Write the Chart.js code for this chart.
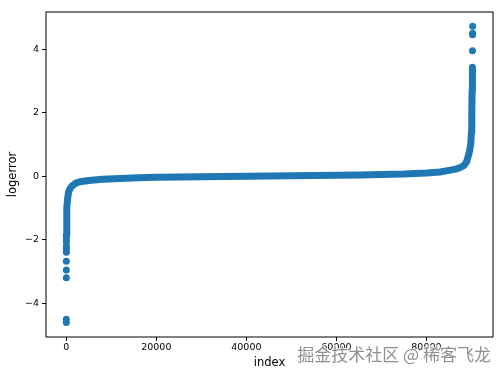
<!DOCTYPE html>
<html>
<head>
<meta charset="utf-8">
<script src="https://cdn.jsdelivr.net/npm/chart.js@4/dist/chart.umd.min.js"></script>
<style>
  html, body { margin: 0; padding: 0; background: #fff; }
</style>
</head>
<body>
<canvas id="chart" width="503" height="378"></canvas>
<script>
// sorted logerror vs index
const curveIndex = [0, 60, 150, 300, 500, 800, 1200, 2000, 3000, 5000, 8000, 12000, 16000, 20000, 25000, 30000, 35000, 40000, 45000, 50000, 55000, 60000, 65000, 70000, 75000, 80000, 83000, 85000, 86500, 87500, 88300, 88900, 89240, 89600, 89860, 90000, 90080, 90150, 90220];
const curveError = [-1.86, -1.5, -1.0, -0.7, -0.5, -0.4, -0.32, -0.23, -0.18, -0.14, -0.1, -0.075, -0.055, -0.04, -0.03, -0.02, -0.012, -0.005, 0.002, 0.008, 0.015, 0.024, 0.034, 0.048, 0.066, 0.1, 0.13, 0.18, 0.22, 0.27, 0.33, 0.44, 0.6, 0.8, 1.03, 1.4, 2.0, 2.7, 3.43];

// isolated markers at both ends
const outlierIndex = [2, 3, 6, 8, 10, 14, 16, 18, 22, 26, 90240, 90255, 90262, 90270];
const outlierError = [-4.61, -4.51, -3.2, -2.96, -2.68, -2.4, -2.3, -2.2, -2.07, -1.96, 3.95, 4.45, 4.5, 4.72];

const xTicks = [0, 20000, 40000, 60000, 80000];
const yTicks = [-4, -2, 0, 2, 4];

const blue = '#1f77b4';

const toPoints = (xs, ys) => xs.map((x, i) => ({ x: x, y: ys[i] }));

// box around the plot plus the watermark
const framePlugin = {
    id: 'frame',
    afterDraw(chart) {
        const { ctx, chartArea } = chart;
        ctx.save();
        ctx.strokeStyle = '#000';
        ctx.lineWidth = 1;
        ctx.strokeRect(chartArea.left, chartArea.top, chartArea.right - chartArea.left, chartArea.bottom - chartArea.top);
        ctx.font = '17px "Noto Sans CJK SC"';
        ctx.textAlign = 'right';
        ctx.textBaseline = 'middle';
        ctx.lineWidth = 2;
        ctx.strokeStyle = 'rgba(255,255,255,0.8)';
        ctx.strokeText('掘金技术社区 @ 稀客飞龙', 491, 355);
        ctx.fillStyle = 'rgba(125,125,125,0.85)';
        ctx.fillText('掘金技术社区 @ 稀客飞龙', 491, 355);
        ctx.restore();
    }
};

new Chart(document.getElementById('chart'), {
    type: 'scatter',
    data: {
        datasets: [{
            data: toPoints(curveIndex, curveError),
            showLine: true,
            borderColor: blue,
            borderWidth: 7,
            borderCapStyle: 'round',
            borderJoinStyle: 'round',
            pointRadius: 0,
            tension: 0
        }, {
            data: toPoints(outlierIndex, outlierError),
            backgroundColor: blue,
            borderColor: blue,
            borderWidth: 0,
            pointRadius: 3.5
        }]
    },
    options: {
        responsive: false,
        animation: false,
        devicePixelRatio: 1,
        layout: { padding: { left: 0, top: 12, right: 10, bottom: 0 } },
        plugins: {
            legend: { display: false },
            tooltip: { enabled: false }
        },
        scales: {
            x: {
                type: 'linear',
                min: -4514,
                max: 94789,
                afterBuildTicks: s => { s.ticks = xTicks.map(v => ({ value: v })); },
                afterFit: s => { s.height = 41; },
                grid: { drawOnChartArea: false, tickLength: 4, color: '#000' },
                border: { display: false },
                ticks: {
                    color: '#000', padding: 1, font: { family: 'DejaVu Sans', size: 9.5 }, maxRotation: 0,
                    callback: v => String(v)
                },
                title: { display: true, text: 'index', color: '#000', font: { family: 'DejaVu Sans', size: 11.5 }, padding: { bottom: 8 } }
            },
            y: {
                type: 'linear',
                min: -5.07,
                max: 5.17,
                afterBuildTicks: s => { s.ticks = yTicks.map(v => ({ value: v })); },
                afterFit: s => { s.width = 46; },
                grid: { drawOnChartArea: false, tickLength: 4, color: '#000' },
                border: { display: false },
                ticks: {
                    color: '#000', padding: 3, font: { family: 'DejaVu Sans', size: 9.5 },
                    callback: v => String(v).replace('-', '\u2212')
                },
                title: { display: true, text: 'logerror', color: '#000', font: { family: 'DejaVu Sans', size: 11.5 }, padding: { top: 6 } }
            }
        }
    },
    plugins: [framePlugin]
});
</script>
</body>
</html>
